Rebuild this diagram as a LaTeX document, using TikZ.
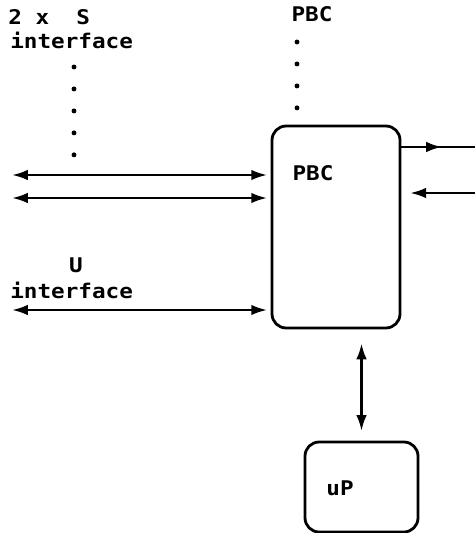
\documentclass[tikz,border=0pt]{standalone}
\usepackage{fontspec}
\setmonofont[FakeStretch=1.12]{DejaVu Sans Mono}
\usepackage{tikz}
\usetikzlibrary{arrows.meta,positioning,calc}

\tikzset{
  lbl/.style={font=\fontsize{11.5}{13}\selectfont\ttfamily\bfseries, inner sep=0pt},
  blk/.style={draw, line width=1.6pt, rounded corners=8pt, inner sep=0pt},
  link/.style={line width=1.4pt},
  tip/.tip={Latex[length=9pt,width=6pt]},
  dbl/.style={link, tip-tip},
  dots/.style={line width=2.8pt, line cap=round, dash pattern=on 0pt off 12.5pt},
}

\begin{document}
\begin{tikzpicture}[x=0.02cm, y=-0.02cm]
  \useasboundingbox (0,0) rectangle (475,533);
  % blocks
  \node[blk, minimum width=2.56cm, minimum height=4.04cm] (pbc) at (336,227) {};
  \node[blk, minimum width=2.26cm, minimum height=1.8cm] (up) at (361.5,487) {};
  % labels
  \node[lbl, anchor=west] (sifc) at (8,17) {2 x\ \ S};
  \node[lbl, anchor=west] (sname) at (10,40) {interface};
  \node[lbl] (pbctop) at (312,14) {PBC};
  \node[lbl] (pbcname) at (313,173) {PBC};
  \node[lbl] (unum) at (76,265) {U};
  \node[lbl, anchor=west] (uname) at (10,290) {interface};
  \node[lbl] (upname) at (340,488) {uP};
  % leaders
  \draw[dots] (74,67) -- (74,160);
  \draw[dots] (297,42) -- (297,112);
  % links
  \coordinate (s1) at (12,175);
  \coordinate (s2) at (12,198);
  \coordinate (u1) at (12,310);
  \draw[dbl, shorten >=2pt] (s1) -- (s1 -| pbc.west);
  \draw[dbl, shorten >=2pt] (s2) -- (s2 -| pbc.west);
  \draw[dbl, shorten >=2pt] (u1) -- (u1 -| pbc.west);
  \coordinate (o1) at (475,147);
  \coordinate (o1m) at (442,147);
  \coordinate (i1) at (475,193);
  \draw[link] (pbc.east |- o1) -- (o1);
  \draw[link, -tip] (pbc.east |- o1) -- (o1m);
  \draw[link, -tip, shorten >=5pt] (i1) -- (i1 -| pbc.east);
  \draw[dbl, shorten <=8pt, shorten >=5.5pt] (pbc.south -| up.north) -- (up.north);
\end{tikzpicture}
\end{document}
